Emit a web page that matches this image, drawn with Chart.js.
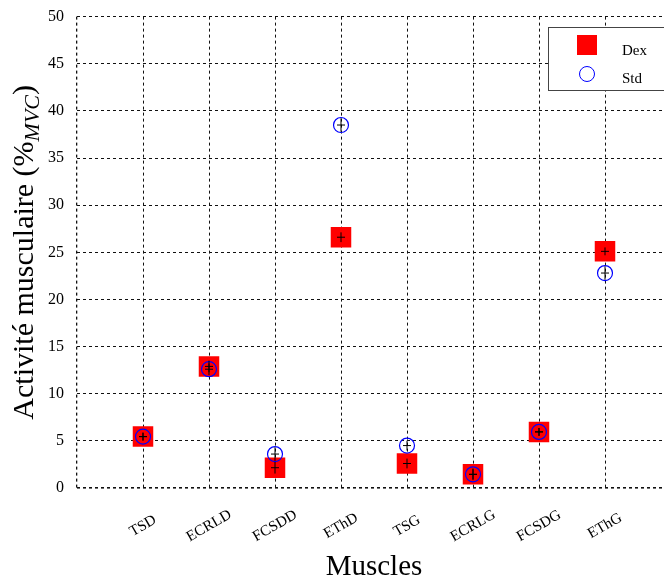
<!DOCTYPE html>
<html>
<head>
<meta charset="utf-8">
<script src="https://cdn.jsdelivr.net/npm/chart.js@4.4.0/dist/chart.umd.min.js"></script>
<style>
html, body { margin: 0; padding: 0; overflow: hidden; background: #fff; }
canvas { display: block; }
</style>
</head>
<body>
<canvas id="muscleChart" width="672" height="576"></canvas>
<script>
var muscles = ['TSD', 'ECRLD', 'FCSDD', 'EThD', 'TSG', 'ECRLG', 'FCSDG', 'EThG'];
var dexValues = [5.45, 12.9, 2.15, 26.6, 2.6, 1.45, 5.95, 25.1];
var dexErrors = [0.1, 0.3, 0.3, 0.2, 0.2, 0.2, 0.1, 0.1];
var stdValues = [5.45, 12.6, 3.6, 38.5, 4.5, 1.45, 5.95, 22.8];
var stdErrors = [0.1, 0.3, 0.4, 0.4, 0.2, 0.3, 0.1, 0.4];
var yTicks = [0, 5, 10, 15, 20, 25, 30, 35, 40, 45, 50];

var serif = "'Liberation Serif', 'Times New Roman', serif";

function toPoints(values) {
    return values.map(function (v, i) { return { x: i + 1, y: v }; });
}

// small black error bars on top of every marker
var errorBars = {
    id: 'errorBars',
    afterDatasetsDraw: function (chart) {
        var ctx = chart.ctx;
        var ys = chart.scales.y;
        var errs = [dexErrors, stdErrors];
        ctx.save();
        ctx.strokeStyle = '#000';
        ctx.lineWidth = 1;
        chart.data.datasets.forEach(function (ds, d) {
            var meta = chart.getDatasetMeta(d);
            meta.data.forEach(function (pt, i) {
                var v = ds.data[i].y, e = errs[d][i];
                var top = ys.getPixelForValue(v + e);
                var bot = ys.getPixelForValue(v - e);
                ctx.beginPath();
                ctx.moveTo(pt.x, top - 3);
                ctx.lineTo(pt.x, bot + 3);
                ctx.moveTo(pt.x - 4, pt.y);
                ctx.lineTo(pt.x + 4, pt.y);
                ctx.stroke();
            });
        });
        ctx.restore();
    }
};

// axis labels, titles and legend
var decorations = {
    id: 'decorations',
    afterDraw: function (chart) {
        var ctx = chart.ctx;
        var xs = chart.scales.x;
        var area = chart.chartArea;
        ctx.save();
        ctx.fillStyle = '#000';

        // rotated category labels
        ctx.font = '15px ' + serif;
        ctx.textAlign = 'center';
        ctx.textBaseline = 'middle';
        muscles.forEach(function (m, i) {
            ctx.save();
            ctx.translate(xs.getPixelForValue(i + 1), 526);
            ctx.rotate(-Math.PI / 6);
            ctx.fillText(m, 0, 0);
            ctx.restore();
        });

        // x title
        ctx.font = '29px ' + serif;
        ctx.textBaseline = 'alphabetic';
        ctx.fillText('Muscles', (area.left + area.right) / 2, 575);

        // y title with subscript
        var p1 = 'Activité musculaire (%', p2 = 'MVC', p3 = ')';
        ctx.font = '30px ' + serif;
        var w1 = ctx.measureText(p1).width, w3 = ctx.measureText(p3).width;
        ctx.font = 'italic 22px ' + serif;
        var w2 = ctx.measureText(p2).width;
        var total = w1 + w2 + w3;
        ctx.translate(33, (area.top + area.bottom) / 2);
        ctx.rotate(-Math.PI / 2);
        ctx.textAlign = 'left';
        var x0 = -total / 2;
        ctx.font = '30px ' + serif;
        ctx.fillText(p1, x0, 0);
        ctx.font = 'italic 22px ' + serif;
        ctx.fillText(p2, x0 + w1, 6);
        ctx.font = '30px ' + serif;
        ctx.fillText(p3, x0 + w1 + w2, 0);
        ctx.restore();

        // legend box
        ctx.save();
        ctx.fillStyle = '#fff';
        ctx.fillRect(548.5, 27.5, 130, 63);
        ctx.strokeStyle = '#444';
        ctx.lineWidth = 1;
        ctx.strokeRect(548.5, 27.5, 130, 63);
        ctx.fillStyle = '#ff0000';
        ctx.fillRect(577, 35, 20, 20);
        ctx.strokeStyle = '#0000ff';
        ctx.beginPath();
        ctx.arc(587, 74, 7.5, 0, Math.PI * 2);
        ctx.stroke();
        ctx.fillStyle = '#000';
        ctx.font = '15px ' + serif;
        ctx.textAlign = 'left';
        ctx.textBaseline = 'alphabetic';
        ctx.fillText('Dex', 622, 55);
        ctx.fillText('Std', 622, 83);
        ctx.restore();
    }
};

var ctx = document.getElementById('muscleChart').getContext('2d');
var chart = new Chart(ctx, {
    type: 'scatter',
    data: {
        datasets: [{
            label: 'Dex',
            data: toPoints(dexValues),
            pointStyle: 'rect',
            pointRadius: 14.5,
            pointHoverRadius: 14.5,
            backgroundColor: '#ff0000',
            borderColor: '#ff0000',
            borderWidth: 0,
            order: 2
        }, {
            label: 'Std',
            data: toPoints(stdValues),
            pointStyle: 'circle',
            pointRadius: 7.5,
            pointHoverRadius: 7.5,
            backgroundColor: 'rgba(0,0,0,0)',
            borderColor: '#0000ff',
            borderWidth: 1.2,
            order: 1
        }]
    },
    options: {
        responsive: false,
        animation: false,
        layout: { autoPadding: false, padding: { top: 14, right: 1, left: 0, bottom: 0 } },
        plugins: {
            legend: { display: false },
            tooltip: { enabled: false }
        },
        scales: {
            x: {
                type: 'linear',
                min: 0,
                max: muscles.length + 1,
                ticks: { display: false, stepSize: 1 },
                grid: {
                    color: '#111',
                    lineWidth: function (c) { return c.tick && c.tick.value === 0 ? 1.3 : 1; },
                    drawTicks: false
                },
                border: { display: false, dash: [3, 3] },
                afterFit: function (s) { s.height = 88; }
            },
            y: {
                min: 0,
                max: 50,
                afterBuildTicks: function (s) {
                    s.ticks = yTicks.map(function (v) { return { value: v }; });
                },
                ticks: {
                    color: '#000',
                    padding: 13,
                    font: { family: serif, size: 16, lineHeight: 0.45 }
                },
                grid: {
                    color: '#111',
                    lineWidth: function (c) { return c.tick && c.tick.value === 0 ? 1.6 : 1; },
                    drawTicks: false
                },
                border: { display: false, dash: [3, 3] },
                afterFit: function (s) { s.width = 77; }
            }
        }
    },
    plugins: [errorBars, decorations]
});
</script>
</body>
</html>
